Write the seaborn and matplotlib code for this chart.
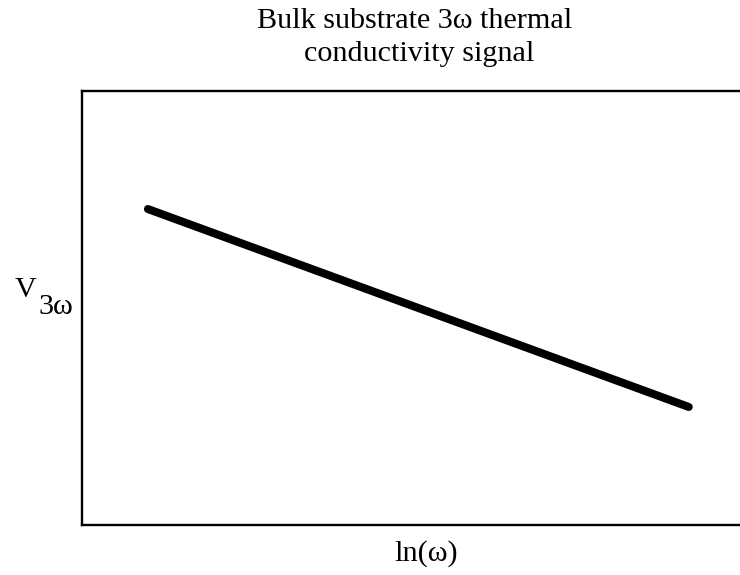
import matplotlib
matplotlib.use("Agg")
import matplotlib.pyplot as plt
import seaborn as sns
import pandas as pd

# Idealised 3-omega signal: V_3w falls linearly with ln(omega)
ln_omega = [1.0, 9.2]
v_3omega = [7.28, 2.72]

sns.set_style("white")
plt.rcParams["font.family"] = ["Liberation Serif", "DejaVu Serif"]
plt.rcParams["text.color"] = "black"
plt.rcParams["axes.labelcolor"] = "black"

df = pd.DataFrame({"ln_omega": ln_omega, "v": v_3omega})

fig = plt.figure(figsize=(7.4, 5.75), dpi=100)
ax = fig.add_axes([82 / 740, 1 - 525 / 575, 1 - 82 / 740 + 0.002, 434 / 575])

sns.lineplot(data=df, x="ln_omega", y="v", ax=ax, color="black",
             linewidth=5.8, solid_capstyle="round")

ax.set_xlim(0, 10)
ax.set_ylim(0, 10)
ax.set_xticks([])
ax.set_yticks([])
ax.set_xlabel("")
ax.set_ylabel("")
for side in ["left", "bottom", "top"]:
    ax.spines[side].set_color("black")
    ax.spines[side].set_linewidth(1.7)
ax.spines["right"].set_visible(False)

fs = 21.7

def px(x, y):
    return x / 740, 1 - y / 575

# Title, two lines
fig.text(*px(415, 21), "Bulk substrate 3ω thermal", ha="center", va="center", fontsize=fs)
fig.text(*px(419, 54), "conductivity signal", ha="center", va="center", fontsize=fs)

# x label
fig.text(*px(426, 554), "ln(ω)", ha="center", va="center", fontsize=fs)

# y label: V with a full-size lowered "3ω"
fig.text(*px(26, 290), "V", ha="center", va="center", fontsize=fs)
fig.text(*px(56, 307), "3ω", ha="center", va="center", fontsize=fs)

fig.savefig("out.png", dpi=100)
